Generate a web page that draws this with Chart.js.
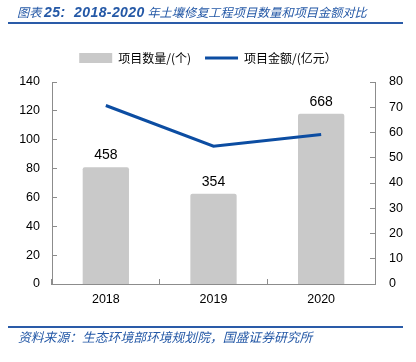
<!DOCTYPE html>
<html><head><meta charset="utf-8">
<script src="https://cdn.jsdelivr.net/npm/chart.js@4/dist/chart.umd.min.js"></script>
<style>
body{margin:0;background:#fff;width:416px;height:362px;overflow:hidden;position:relative;font-family:"Noto Sans CJK SC",sans-serif;}
#wrap{position:absolute;left:0;top:0;width:416px;height:362px;}
.title{position:absolute;left:17px;top:3px;font-size:12.2px;font-style:italic;color:#2458a6;white-space:nowrap;line-height:18px;}
.title b{font-family:"Liberation Sans";font-size:14px;letter-spacing:0.4px;}
.rule{position:absolute;left:8px;width:395px;height:2px;background:#2a5ba8;}
.src{position:absolute;left:18px;top:328px;font-size:12.8px;font-style:italic;color:#2458a6;white-space:nowrap;line-height:18px}
</style></head>
<body>
<div id="wrap"><canvas id="c" width="416" height="362"></canvas></div>
<div class="title">图表 <b>25:&nbsp; 2018-2020</b> 年土壤修复工程项目数量和项目金额对比</div>
<div class="rule" style="top:22px"></div>
<div class="rule" style="top:326px"></div>
<div class="src">资料来源：生态环境部环境规划院，国盛证券研究所</div>
<script>
const categories = ['2018', '2019', '2020'];
const projectCounts = [458, 354, 668];          // 项目数量/(个)
const projectAmounts = [70.7, 54.6, 59.2];      // 项目金额/(亿元)
const leftAxis = {min: 0, max: 140, step: 20};
const rightAxis = {min: 0, max: 80, step: 10};
const countAxisMax = 792;

const BAR_COLOR = '#c9c9c9';
const LINE_COLOR = '#0c4da2';
const AXIS_COLOR = '#8c8c8c';
const tickFont = {family: 'Liberation Sans', size: 12.5};

const barLabels = {
  id: 'barLabels',
  afterDatasetsDraw(chart) {
    const meta = chart.getDatasetMeta(0);
    const ctx = chart.ctx;
    ctx.save();
    ctx.font = '14px "Liberation Sans"';
    ctx.fillStyle = '#000';
    ctx.textAlign = 'center';
    ctx.textBaseline = 'alphabetic';
    meta.data.forEach((el, i) => {
      ctx.fillText(String(projectCounts[i]), el.x, el.y - 8);
    });
    ctx.restore();
  }
};

const legendGap = {
  id: 'legendGap',
  beforeInit(chart) {
    const lg = chart.legend;
    if (!lg) return;
    const orig = lg.fit;
    lg.fit = function () { orig.call(this); this.height += 8; };
  }
};

new Chart(document.getElementById('c'), {
  type: 'bar',
  data: {
    labels: categories,
    datasets: [
      {type: 'bar', label: '项目数量/(个)', data: projectCounts, yAxisID: 'yc',
       backgroundColor: BAR_COLOR, borderWidth: 0, borderRadius: 2,
       categoryPercentage: 1, barPercentage: 0.43, order: 1},
      {type: 'line', label: '项目金额/(亿元）', data: projectAmounts, yAxisID: 'y1',
       borderColor: LINE_COLOR, backgroundColor: LINE_COLOR, borderWidth: 3,
       pointRadius: 0, tension: 0, order: 0}
    ]
  },
  options: {
    responsive: false,
    animation: false,
    layout: {padding: {top: 38, bottom: 50, left: 0, right: 0}},
    plugins: {
      tooltip: {enabled: false},
      legend: {
        position: 'top',
        labels: {
          usePointStyle: true, pointStyleWidth: 33, boxHeight: 10, padding: 14,
          color: '#000', font: {family: 'Noto Sans CJK SC', size: 12},
          generateLabels(chart) {
            const items = Chart.defaults.plugins.legend.labels.generateLabels(chart);
            items.forEach(it => {
              if (it.datasetIndex === 0) {
                it.pointStyle = 'rect'; it.fillStyle = BAR_COLOR; it.strokeStyle = BAR_COLOR; it.lineWidth = 0;
              } else {
                it.pointStyle = 'line'; it.strokeStyle = LINE_COLOR; it.lineWidth = 3;
              }
            });
            return items.sort((a, b) => a.datasetIndex - b.datasetIndex);
          }
        }
      }
    },
    scales: {
      x: {
        offset: true,
        grid: {offset: true, drawOnChartArea: false, tickLength: -5, color: AXIS_COLOR},
        border: {color: AXIS_COLOR},
        ticks: {font: tickFont, color: '#000', padding: 13},
        afterFit(s) { s.height = 28; }
      },
      y: {
        position: 'left', min: leftAxis.min, max: leftAxis.max,
        ticks: {stepSize: leftAxis.step, font: tickFont, color: '#000', padding: 17},
        grid: {drawOnChartArea: false, tickLength: -5, color: AXIS_COLOR},
        border: {color: AXIS_COLOR},
        afterFit(s) { s.width = 52; }
      },
      y1: {
        position: 'right', min: rightAxis.min, max: rightAxis.max,
        ticks: {stepSize: rightAxis.step, font: tickFont, color: '#000', padding: 19},
        grid: {drawOnChartArea: false, tickLength: -5, color: AXIS_COLOR},
        border: {color: AXIS_COLOR},
        afterFit(s) { s.width = 41; }
      },
      yc: {display: false, min: 0, max: countAxisMax}
    }
  },
  plugins: [barLabels, legendGap]
});
</script>
</body></html>
